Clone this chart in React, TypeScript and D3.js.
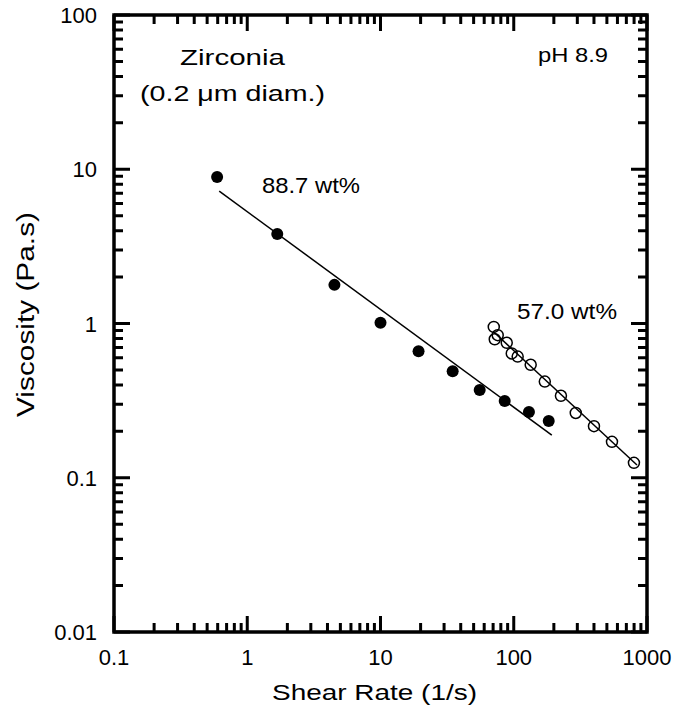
import * as d3 from "d3";
import React from "react";

// 88.7 wt% (filled) measurements
const rateHigh = [0.594, 1.68, 4.51, 10.0, 19.3, 34.8, 55.5, 85.5, 130, 183];
const viscHigh = [8.9, 3.8, 1.78, 1.01, 0.66, 0.49, 0.37, 0.315, 0.267, 0.233];
const fitHighRate = [0.616, 193];
const fitHighVisc = [7.22, 0.189];

// 57.0 wt% (open) measurements
const rateLow = [70.8, 75.8, 72, 88.6, 96.6, 107, 134, 171, 226, 292, 400, 546, 798];
const viscLow = [0.95, 0.84, 0.79, 0.75, 0.64, 0.61, 0.54, 0.42, 0.34, 0.263, 0.216, 0.171, 0.125];
const fitLowRate = [70.8, 841];
const fitLowVisc = [0.88, 0.121];

const xTickLabels = ["0.1", "1", "10", "100", "1000"];
const yTickLabels = ["0.01", "0.1", "1", "10", "100"];

const font = "'Liberation Sans', Arial, Helvetica, sans-serif";

function minorsOf(majors) {
  const out = [];
  for (let i = 0; i < majors.length - 1; i++) {
    for (let k = 2; k <= 9; k++) out.push(majors[i] * k);
  }
  return out;
}

export default function App() {
  const width = 674, height = 710;
  const left = 114, right = 647, top = 15, bottom = 632;

  const x = d3.scaleLog().domain([0.1, 1000]).range([left, right]);
  const y = d3.scaleLog().domain([0.01, 100]).range([bottom, top]);

  const xMajor = xTickLabels.map(Number);
  const yMajor = yTickLabels.map(Number);
  const xMinor = minorsOf(xMajor);
  const yMinor = minorsOf(yMajor);

  const tickPath = (xs, ys, len) => {
    const p = d3.path();
    xs.forEach((t) => {
      const px = x(t);
      p.moveTo(px, bottom); p.lineTo(px, bottom - len);
      p.moveTo(px, top); p.lineTo(px, top + len);
    });
    ys.forEach((t) => {
      const py = y(t);
      p.moveTo(left, py); p.lineTo(left + len, py);
      p.moveTo(right, py); p.lineTo(right - len, py);
    });
    return p.toString();
  };

  const lineGen = d3.line().x((d) => x(d[0])).y((d) => y(d[1]));
  const fitHigh = fitHighRate.map((r, i) => [r, fitHighVisc[i]]);
  const fitLow = fitLowRate.map((r, i) => [r, fitLowVisc[i]]);

  return (
    <svg width={width} height={height} style={{ position: "absolute", left: 0, top: 0 }}>
      <rect x={left} y={top} width={right - left} height={bottom - top} fill="none" stroke="#000" strokeWidth={3.5} />

      {/* tick labels */}
      {xMajor.map((t, i) => (
        <text key={"xl" + i} x={x(t)} y={665} fontSize={22} fontFamily={font} textAnchor="middle">{xTickLabels[i]}</text>
      ))}
      {yMajor.map((t, i) => (
        <text key={"yl" + i} x={97} y={y(t) + 8} fontSize={22} fontFamily={font} textAnchor="end">{yTickLabels[i]}</text>
      ))}

      {/* axis titles */}
      <text x={272} y={700} fontSize={22} fontFamily={font} textLength={205} lengthAdjust="spacingAndGlyphs">Shear Rate  (1/s)</text>
      <text transform="translate(34,417) rotate(-90)" fontSize={23} fontFamily={font} textLength={205} lengthAdjust="spacingAndGlyphs">Viscosity  (Pa.s)</text>

      {/* fit lines */}
      <path d={lineGen(fitHigh)} fill="none" stroke="#000" strokeWidth={1.5} />
      <path d={lineGen(fitLow)} fill="none" stroke="#000" strokeWidth={1.5} />

      {/* points */}
      {rateHigh.map((r, i) => (
        <circle key={"h" + i} cx={x(r)} cy={y(viscHigh[i])} r={6} fill="#000" />
      ))}
      {rateLow.map((r, i) => (
        <circle key={"l" + i} cx={x(r)} cy={y(viscLow[i])} r={5.5} fill="none" stroke="#000" strokeWidth={1.5} />
      ))}

      {/* annotations */}
      <text x={180} y={65} fontSize={22} fontFamily={font} textLength={105} lengthAdjust="spacingAndGlyphs">Zirconia</text>
      <text x={140} y={101} fontSize={22} fontFamily={font} textLength={185} lengthAdjust="spacingAndGlyphs">(0.2 μm diam.)</text>
      <text x={538} y={62} fontSize={20} fontFamily={font} textLength={70} lengthAdjust="spacingAndGlyphs">pH 8.9</text>
      <text x={262} y={193} fontSize={22} fontFamily={font} textLength={98} lengthAdjust="spacingAndGlyphs">88.7 wt%</text>
      <text x={517} y={319} fontSize={22} fontFamily={font} textLength={100} lengthAdjust="spacingAndGlyphs">57.0 wt%</text>

      {/* ticks, drawn last */}
      <path d={tickPath(xMajor, yMajor, 16)} fill="none" stroke="#000" strokeWidth={3} />
      <path d={tickPath(xMinor, yMinor, 9)} fill="none" stroke="#000" strokeWidth={3} />
    </svg>
  );
}
